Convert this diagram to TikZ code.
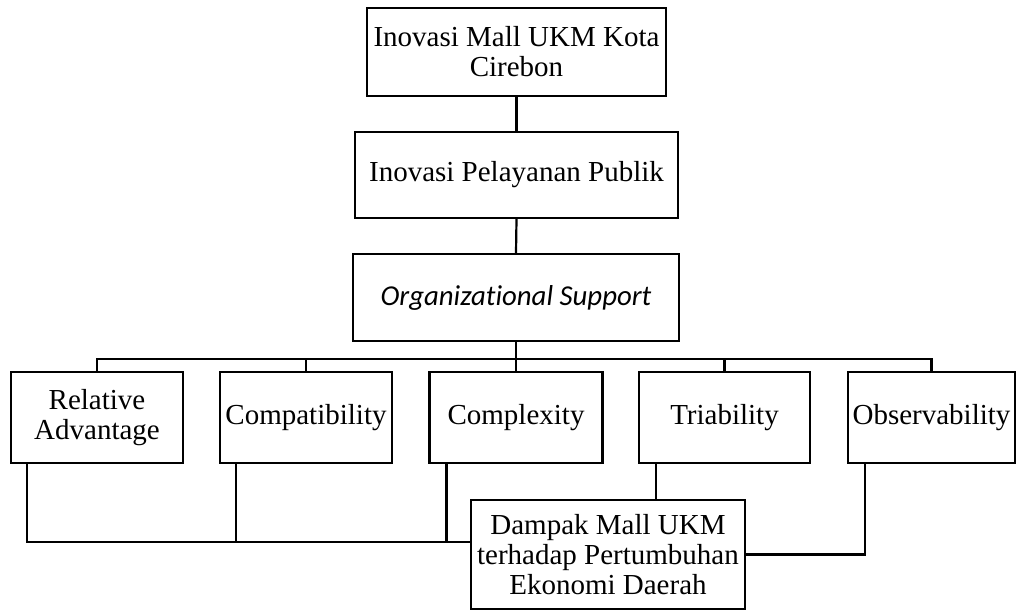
\documentclass[tikz,border=0pt]{standalone}
\usepackage{fontspec}
\setmainfont{Liberation Serif}
\newfontfamily\orgfont[Ligatures=NoCommon]{Carlito}
\begin{document}
\begin{tikzpicture}[x=1pt,y=-1pt,
  box/.style={draw, line width=2.2pt, inner sep=0pt, align=center,
    font=\fontsize{29}{30}\selectfont},
  conn/.style={line width=2.2pt}]
\useasboundingbox (0,0) rectangle (1017,612);
\node[box, minimum width=299pt, minimum height=88pt] (top) at (516.5,52) {Inovasi Mall UKM Kota\\Cirebon};
\node[box, minimum width=323pt, minimum height=86pt] (pel) at (516.5,175) {Inovasi Pelayanan Publik};
\node[box, minimum width=326pt, minimum height=87pt, font=\orgfont\itshape\fontsize{28.8}{30}\selectfont] (org) at (516,297.5) {Organizational Support};
\node[box, minimum width=172pt, minimum height=91pt] (rel) at (97,417.5) {Relative\\Advantage};
\node[box, minimum width=172pt, minimum height=91pt] (com) at (306,417.5) {Compatibility};
\node[box, minimum width=173pt, minimum height=91pt] (cx) at (516,417.5) {Complexity};
\node[box, minimum width=171pt, minimum height=91pt] (tri) at (724.5,417.5) {Triability};
\node[box, minimum width=167pt, minimum height=91pt] (obs) at (931.5,417.5) {Observability};
\node[box, minimum width=274pt, minimum height=109pt] (dam) at (608,554.5) {Dampak Mall UKM\\terhadap Pertumbuhan\\Ekonomi Daerah};
\coordinate (bus) at (516,359);
\coordinate (jL) at (471,542);
\coordinate (rb) at ([xshift=17pt]rel.south west);
\coordinate (cb) at ([xshift=17pt]com.south west);
\coordinate (xb) at ([xshift=18pt]cx.south west);
\coordinate (tb) at ([xshift=18pt]tri.south west);
\coordinate (ob) at ([xshift=18pt]obs.south west);
\draw[conn] (top.south) -- (pel.north);
\draw[conn] (pel.south) -- (org.north);
\draw[conn] (org.south) -- (bus);
\draw[conn] (rel.north) |- (bus);
\draw[conn] (com.north) |- (bus);
\draw[conn] (cx.north) -- (bus);
\draw[conn] (tri.north) |- (bus);
\draw[conn] (obs.north) |- (bus);
\draw[conn] (rb) |- (jL);
\draw[conn] (cb) |- (jL);
\draw[conn] (xb) |- (jL);
\draw[conn] (tb) -- (tb |- dam.north);
\draw[conn] (ob) |- (dam.east);
\end{tikzpicture}
\end{document}
